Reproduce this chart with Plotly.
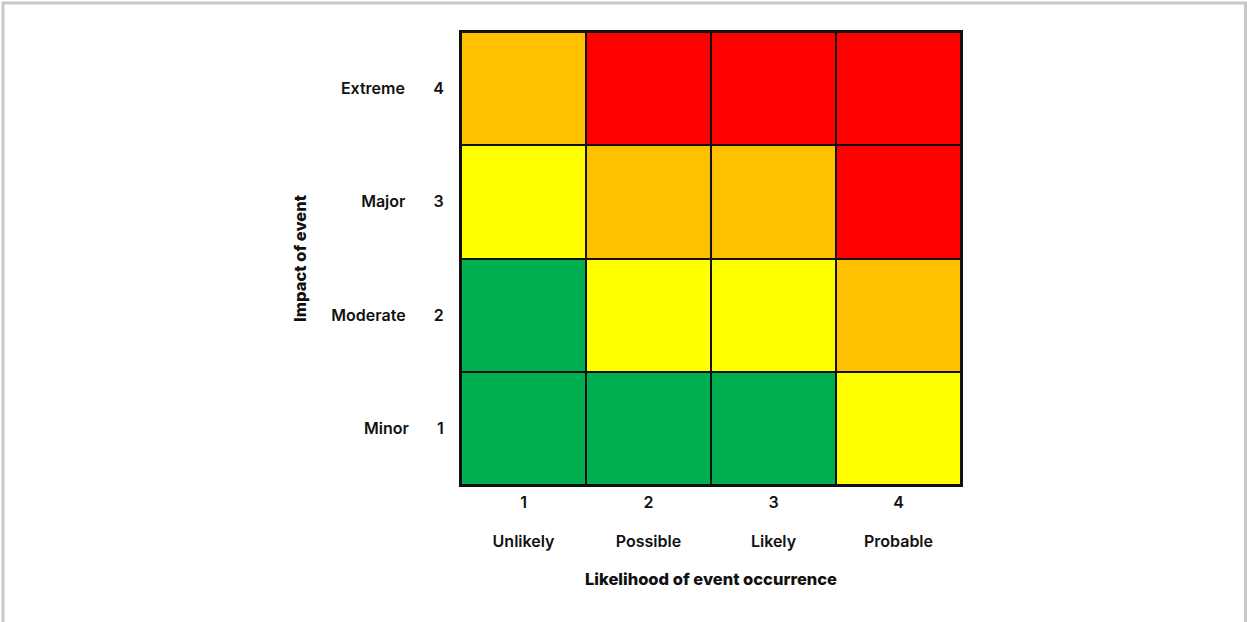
import plotly.graph_objects as go

likelihood_nums = [1, 2, 3, 4]
likelihood_labels = ["Unlikely", "Possible", "Likely", "Probable"]
impact_nums = [1, 2, 3, 4]
impact_labels = ["Minor", "Moderate", "Major", "Extreme"]

# risk level per cell: rows = impact 1..4, cols = likelihood 1..4
# 1 = low (green), 2 = medium (yellow), 3 = high (orange), 4 = extreme (red)
risk_levels = [
    [1, 1, 1, 2],
    [1, 2, 2, 3],
    [2, 3, 3, 4],
    [3, 4, 4, 4],
]
level_colors = ["#00B050", "#FFFF00", "#FFC000", "#FF0000"]

colorscale = []
n = len(level_colors)
for i, c in enumerate(level_colors):
    colorscale.append([i / n, c])
    colorscale.append([(i + 1) / n, c])

font_family = "Inter, 'Open Sans', sans-serif"
NB = "\u00a0"

fig = go.Figure()
fig.add_trace(
    go.Heatmap(
        x=likelihood_nums,
        y=impact_nums,
        z=risk_levels,
        zmin=0.5,
        zmax=4.5,
        colorscale=colorscale,
        showscale=False,
        xgap=2,
        ygap=2,
        hoverinfo="skip",
    )
)
# invisible helper trace so the numeric likelihood axis is drawn
fig.add_trace(
    go.Scatter(
        x=likelihood_nums, y=impact_nums, xaxis="x2", yaxis="y",
        mode="markers", marker=dict(opacity=0), hoverinfo="skip",
        showlegend=False,
    )
)

fig.update_layout(
    width=1247,
    height=622,
    margin=dict(l=461, r=286, t=32, b=137),
    paper_bgcolor="white",
    plot_bgcolor="#111111",
    font=dict(family=font_family, size=16, color="#111111"),
    showlegend=False,
)

fig.update_layout(
    xaxis=dict(
        range=[0.5, 4.5],
        tickmode="array",
        tickvals=likelihood_nums,
        ticktext=likelihood_labels,
        tickfont=dict(family=font_family, size=16, weight=600),
        ticks="outside",
        ticklen=41,
        tickcolor="rgba(0,0,0,0)",
        showgrid=False,
        zeroline=False,
        showline=True,
        linecolor="#111111",
        linewidth=2,
        mirror=True,
        title=dict(text="Likelihood of event occurrence",
                   font=dict(family=font_family, size=16.5, weight=800),
                   standoff=23),
    ),
    xaxis2=dict(
        range=[0.5, 4.5],
        overlaying="x",
        anchor="y",
        side="bottom",
        tickmode="array",
        tickvals=likelihood_nums,
        ticktext=[str(v) for v in likelihood_nums],
        tickfont=dict(family=font_family, size=16, weight=600),
        ticks="outside",
        ticklen=3,
        tickcolor="rgba(0,0,0,0)",
        showgrid=False,
        zeroline=False,
        showline=False,
    ),
    yaxis=dict(
        range=[0.5, 4.5],
        tickmode="array",
        tickvals=impact_nums,
        ticktext=[f"{l}{NB*7}{n}" for n, l in zip(impact_nums, impact_labels)],
        tickfont=dict(family=font_family, size=16, weight=600),
        ticks="outside",
        ticklen=12,
        tickcolor="rgba(0,0,0,0)",
        showgrid=False,
        zeroline=False,
        showline=True,
        linecolor="#111111",
        linewidth=2,
        mirror=True,
        title=dict(text="Impact of event",
                   font=dict(family=font_family, size=16.5, weight=800),
                   standoff=21),
    ),
)

# light grey frame around the whole picture
fig.add_shape(
    type="rect", xref="paper", yref="paper",
    x0=(3 - 461) / 500, x1=(1245.5 - 461) / 500,
    y0=-0.6, y1=(485 - 3) / 453,
    line=dict(color="#C8C8C8", width=3),
    fillcolor="rgba(0,0,0,0)",
    layer="below",
)

fig.write_html("out.html", config={"displayModeBar": False},
               post_script="document.body.style.margin='0';")
